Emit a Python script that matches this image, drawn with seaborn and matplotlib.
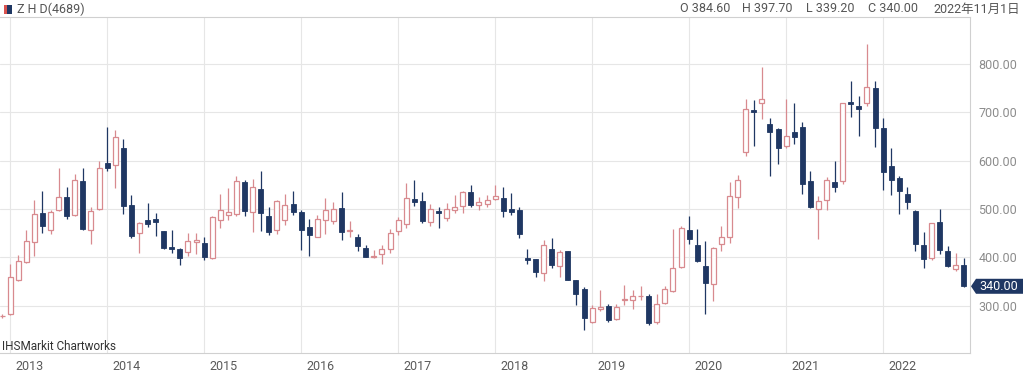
import numpy as np
import pandas as pd
import matplotlib
matplotlib.use("Agg")
import matplotlib.pyplot as plt
import seaborn as sns
from matplotlib.patches import Polygon, Rectangle
from matplotlib.transforms import ScaledTranslation, IdentityTransform

# ---------------- data (monthly OHLC) ----------------
months = [
    "2012-12",
    "2013-01", "2013-02", "2013-03", "2013-04", "2013-05", "2013-06", "2013-07", "2013-08", "2013-09", "2013-10", "2013-11", "2013-12",
    "2014-01", "2014-02", "2014-03", "2014-04", "2014-05", "2014-06", "2014-07", "2014-08", "2014-09", "2014-10", "2014-11", "2014-12",
    "2015-01", "2015-02", "2015-03", "2015-04", "2015-05", "2015-06", "2015-07", "2015-08", "2015-09", "2015-10", "2015-11", "2015-12",
    "2016-01", "2016-02", "2016-03", "2016-04", "2016-05", "2016-06", "2016-07", "2016-08", "2016-09", "2016-10", "2016-11", "2016-12",
    "2017-01", "2017-02", "2017-03", "2017-04", "2017-05", "2017-06", "2017-07", "2017-08", "2017-09", "2017-10", "2017-11", "2017-12",
    "2018-01", "2018-02", "2018-03", "2018-04", "2018-05", "2018-06", "2018-07", "2018-08", "2018-09", "2018-10", "2018-11", "2018-12",
    "2019-01", "2019-02", "2019-03", "2019-04", "2019-05", "2019-06", "2019-07", "2019-08", "2019-09", "2019-10", "2019-11", "2019-12",
    "2020-01", "2020-02", "2020-03", "2020-04", "2020-05", "2020-06", "2020-07", "2020-08", "2020-09", "2020-10", "2020-11", "2020-12",
    "2021-01", "2021-02", "2021-03", "2021-04", "2021-05", "2021-06", "2021-07", "2021-08", "2021-09", "2021-10", "2021-11", "2021-12",
    "2022-01", "2022-02", "2022-03", "2022-04", "2022-05", "2022-06", "2022-07", "2022-08", "2022-09", "2022-10", "2022-11",
]
open_ = [
    278,
    283, 353, 391, 431, 492, 456, 498, 524, 488, 557, 457, 500,
    595, 590, 626, 509, 450, 478, 479, 454, 422, 418, 411, 432,
    429, 398, 478, 488, 490, 555, 494, 542, 485, 456, 478, 510,
    493, 463, 442, 478, 476, 501, 454, 442, 419, 400, 406, 418,
    454, 469, 520, 517, 474, 495, 481, 498, 506, 534, 508, 510,
    521, 523, 499, 497, 399, 396, 368, 418, 382, 413, 352, 335,
    266, 294, 299, 273, 311, 312, 319, 319, 266, 306, 330, 380,
    457, 425, 382, 345, 428, 442, 524, 617, 705, 720, 676, 666,
    631, 659, 670, 557, 500, 519, 555, 557, 721, 713, 719, 750,
    668, 589, 563, 530, 496, 425, 399, 474, 412, 376, 384.6,
]
high = [
    282,
    386, 405, 457, 519, 537, 498, 585, 545, 572, 584, 504, 599,
    670, 664, 645, 528, 472, 512, 492, 455, 457, 420, 451, 450,
    442, 485, 530, 543, 568, 560, 562, 578, 503, 519, 531, 537,
    498, 480, 487, 522, 515, 535, 475, 449, 425, 416, 426, 458,
    484, 553, 560, 534, 510, 503, 512, 529, 538, 550, 524, 528,
    549, 546, 533, 504, 417, 397, 435, 439, 416, 414, 353, 339,
    301, 332, 303, 304, 342, 332, 340, 325, 325, 340, 459, 464,
    485, 459, 434, 421, 464, 556, 570, 727, 726, 793, 689, 668,
    727, 719, 679, 579, 527, 566, 600, 720, 765, 733, 841, 765,
    688, 627, 569, 546, 497, 453, 471, 500, 424, 408, 397.7,
]
low = [
    275,
    280, 350, 388, 402, 450, 449, 496, 479, 486, 456, 427, 498,
    578, 543, 490, 440, 409, 462, 443, 418, 409, 384, 402, 407,
    395, 397, 460, 478, 486, 486, 453, 455, 446, 448, 467, 487,
    416, 402, 441, 449, 469, 435, 441, 413, 400, 399, 387, 408,
    446, 460, 506, 470, 465, 460, 476, 492, 492, 503, 498, 505,
    519, 483, 487, 439, 387, 359, 350, 377, 359, 352, 301, 249,
    264, 289, 266, 271, 301, 294, 312, 259, 263, 304, 328, 377,
    428, 390, 282, 310, 412, 430, 501, 610, 630, 686, 568, 593,
    626, 634, 531, 501, 438, 497, 535, 552, 691, 650, 713, 628,
    539, 529, 489, 500, 412, 377, 394, 406, 379, 372, 339.2,
]
close = [
    279,
    360, 393, 434, 490, 464, 493, 524, 486, 559, 458, 496, 585,
    585, 649, 507, 443, 471, 469, 474, 420, 418, 398, 434, 435,
    400, 483, 498, 494, 557, 495, 545, 492, 453, 517, 508, 494,
    456, 446, 479, 498, 499, 453, 456, 423, 401, 403, 417, 451,
    477, 522, 515, 476, 499, 491, 499, 505, 536, 508, 515, 519,
    526, 496, 494, 449, 395, 370, 426, 383, 411, 354, 325, 274,
    295, 298, 270, 297, 314, 319, 320, 264, 303, 335, 377, 461,
    437, 392, 347, 419, 441, 526, 559, 707, 701, 727, 659, 626,
    651, 649, 552, 503, 517, 559, 546, 719, 718, 707, 753, 668,
    577, 559, 537, 515, 427, 397, 470, 415, 381, 385, 340.0,
]
year_labels = ["2013", "2014", "2015", "2016", "2017", "2018", "2019", "2020", "2021", "2022"]
price_ticks = [300, 400, 500, 600, 700, 800]
ticker = "Z H D(4689)"

# ---------------- style ----------------
sns.set_theme(style="whitegrid")
plt.rcParams["font.family"] = ["Roboto", "Noto Sans CJK JP", "DejaVu Sans"]

UP = "#d88a8f"
DOWN = "#1f3763"
GRID = "#e6e6e6"

df = pd.DataFrame({"month": pd.to_datetime(months), "open": open_, "high": high,
                   "low": low, "close": close})
df["x"] = (df["month"].dt.year - 2013) * 12 + df["month"].dt.month - 1
df["up"] = df["close"] >= df["open"]

fig = plt.figure(figsize=(10.24, 3.82), dpi=100)
W, H = 1024, 382
top_px, bot_px, right_px = 17, 353, 970
ax = fig.add_axes([0, 1 - bot_px / H, right_px / W, (bot_px - top_px) / H])
ax.set_facecolor("white")

up = df[df["up"]]
dn = df[~df["up"]]
bw = 0.62
ax.vlines(up["x"], up["low"], up["high"], color=UP, lw=0.9, zorder=2)
ax.vlines(dn["x"], dn["low"], dn["high"], color=DOWN, lw=0.9, zorder=2)
ax.bar(up["x"], up["close"] - up["open"], bottom=up["open"], width=bw,
       facecolor="white", edgecolor=UP, linewidth=0.9, zorder=3)
ax.bar(dn["x"], dn["open"] - dn["close"], bottom=dn["close"], width=bw,
       facecolor=DOWN, edgecolor=DOWN, linewidth=0.6, zorder=3)

ax.set_xlim(-1.25, 118.75)
ax.set_ylim(202, 897)

year_pos = [(int(y) - 2013) * 12 for y in year_labels]
ax.set_xticks(year_pos)
ax.set_xticklabels(year_labels)
ax.yaxis.tick_right()
ax.set_yticks(price_ticks)
ax.set_yticklabels([f"{v:.2f}" for v in price_ticks])
ax.tick_params(axis="x", length=0, pad=5, labelsize=9, labelcolor="#5a5a5a")
ax.tick_params(axis="y", length=0, pad=6, labelsize=9, labelcolor="#8c8c8c")
off = ScaledTranslation(5 / 100, 0, fig.dpi_scale_trans)
for lbl in ax.get_xticklabels():
    lbl.set_ha("left")
    lbl.set_transform(lbl.get_transform() + off)

ax.grid(True, color=GRID, lw=0.8)
ax.set_axisbelow(True)
ax.spines["left"].set_visible(False)
for s in ["top", "right", "bottom"]:
    ax.spines[s].set_visible(True)
    ax.spines[s].set_color("#d0d0d0")
    ax.spines[s].set_linewidth(0.8)
ax.set_xlabel("")
ax.set_ylabel("")

ax.text(0.002, 0.0, "IHSMarkit Chartworks", transform=ax.transAxes,
        fontsize=8.5, color="#333333", ha="left", va="bottom")

# ---------------- header ----------------
hy = 1 - 9 / H
fig.add_artist(Rectangle((4 / W, 1 - 14 / H), 3 / W, 9 / H, transform=fig.transFigure,
                         facecolor="#d9534f", edgecolor="none"))
fig.add_artist(Rectangle((7 / W, 1 - 14 / H), 5 / W, 9 / H, transform=fig.transFigure,
                         facecolor=DOWN, edgecolor="none"))
fig.text(17 / W, hy, ticker, fontsize=9, color="#555555", va="center", ha="left")
last = df.iloc[-1]
hdr = [("O", last["open"], 680), ("H", last["high"], 742),
       ("L", last["low"], 806), ("C", last["close"], 868)]
for k, v, px in hdr:
    fig.text(px / W, hy, f"{k} {v:.2f}", fontsize=9, color="#555555", va="center", ha="left")
d = last["month"]
fig.text(1020 / W, hy, f"{d.year}年{d.month}月{d.day}日", fontsize=9, color="#555555",
         va="center", ha="right")

# ---------------- last price tag ----------------
fig.canvas.draw()
ydisp = ax.transData.transform((0, last["close"]))[1]
xr = ax.transAxes.transform((1, 0))[0]
h2 = 7.5
tag = Polygon([(xr + 1, ydisp), (xr + 6, ydisp + h2), (1023, ydisp + h2),
               (1023, ydisp - h2), (xr + 6, ydisp - h2)], closed=True,
              transform=IdentityTransform(), facecolor=DOWN, edgecolor="none")
fig.add_artist(tag)
fig.text((xr + 9) / W, ydisp / H, f"{last['close']:.2f}", fontsize=9, color="white",
         va="center", ha="left")

fig.savefig("out.png", dpi=100)
